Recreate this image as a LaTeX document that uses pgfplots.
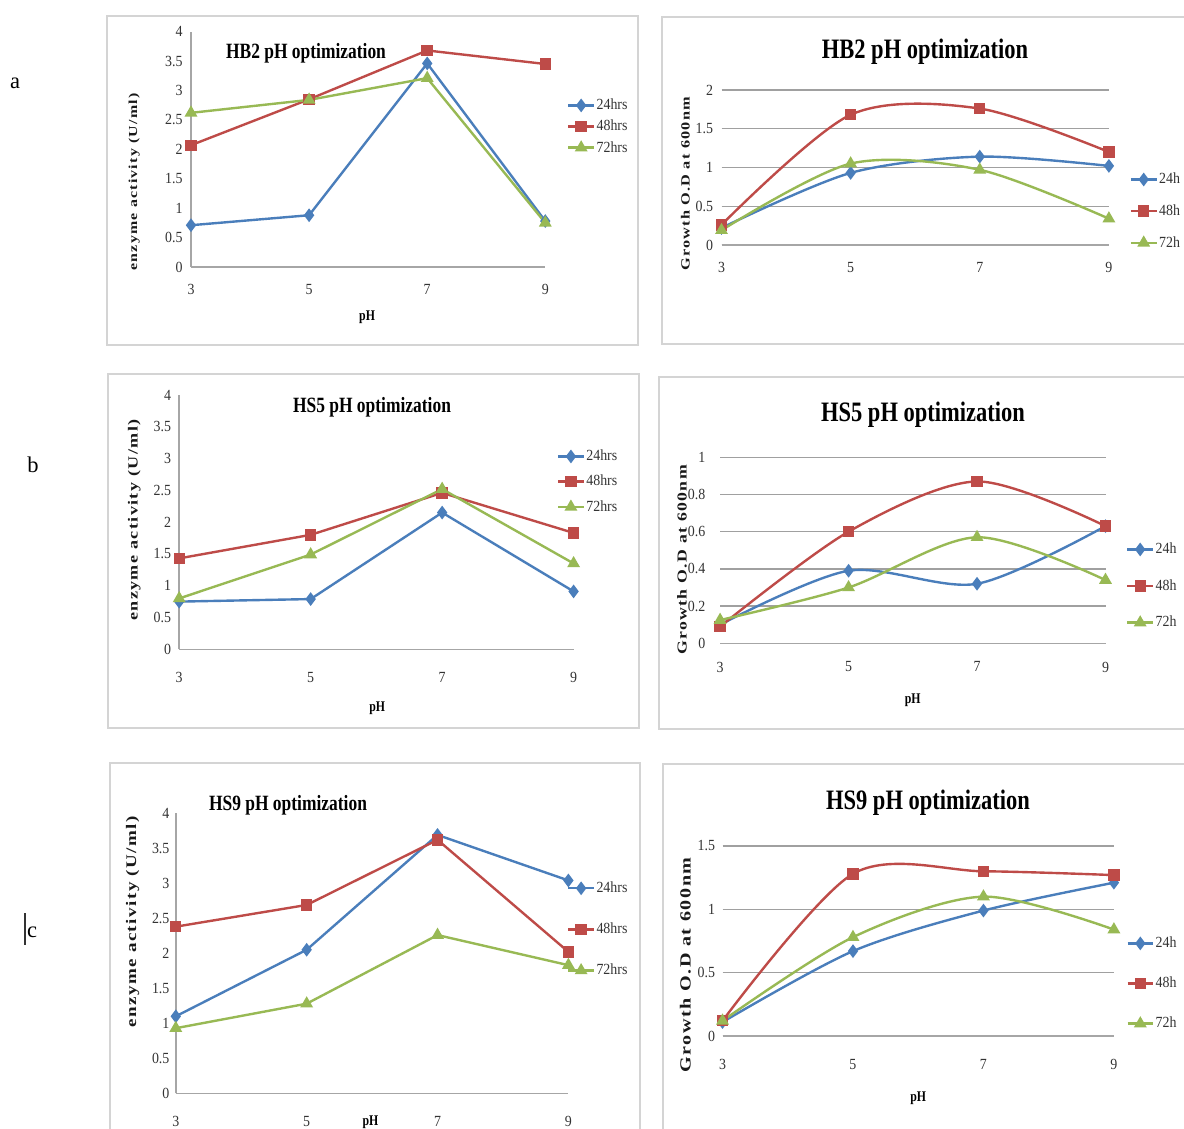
\documentclass[border=0pt]{standalone}
\usepackage{pgfplots}
\pgfplotsset{compat=1.18}
\usepackage{fontspec}
\setmainfont{Liberation Serif}
\newfontfamily\condf[FakeStretch=0.8]{Liberation Serif}
\newfontfamily\tickf[FakeStretch=0.9]{Liberation Serif}
\newfontfamily\labf[FakeStretch=1.3,LetterSpace=10]{Liberation Serif}

\definecolor{c24}{HTML}{4A7EBB}
\definecolor{c48}{HTML}{BE4B48}
\definecolor{c72}{HTML}{98B954}
\definecolor{axgray}{HTML}{A6A6A6}
\definecolor{gridgray}{HTML}{A0A0A0}
\definecolor{framegray}{HTML}{D4D4D4}

\pgfplotsset{
  base/.style={scale only axis, xmin=3, xmax=9, ymin=0, xtick={3,5,7,9},
    tick style={draw=none}, clip=false,
    axis x line*=bottom, axis y line*=left,
    axis line style={draw=axgray, line width=1pt},
    /pgf/number format/assume math mode=true,
    tick label style={font=\tickf\fontsize{11}{12}\selectfont, text=black!80},
    legend cell align=left,
    legend style={draw=none, fill=none, inner sep=0pt, anchor=north west,
      nodes={inner sep=1pt},
      font=\tickf\fontsize{11}{12}\selectfont, text=black!80},
    legend image code/.code={\draw[mark repeat=2,mark phase=2] plot coordinates {(0cm,0cm) (0.32cm,0cm) (0.64cm,0cm)};},
    xlabel style={anchor=center, font=\condf\bfseries\fontsize{10.5}{11}\selectfont},
    ylabel style={anchor=center, text=black!90},
  },
  enz/.style={base, ymax=4, ytick={0,0.5,...,4}},
  gro/.style={base, y axis line style={draw=none}, ymajorgrids,
    grid style={draw=gridgray, line width=1pt}},
  s24/.style={color=c24, line width=1.7pt, mark=diamond*, mark size=3.5pt},
  s48/.style={color=c48, line width=1.7pt, mark=square*, mark size=3.2pt},
  s72/.style={color=c72, line width=1.7pt, mark=triangle*, mark size=3.6pt},
}

\begin{document}
\begin{tikzpicture}[x=0.025cm, y=-0.025cm]
\useasboundingbox (0,0) rectangle (1184,1129);
\clip (0,0) rectangle (1184,1129);
\fill[white] (0,0) rectangle (1184,1129);

% panel frames
\draw[framegray, line width=1pt] (107,16) rectangle (638,345);
\draw[framegray, line width=1pt] (662,17) rectangle (1200,344);
\draw[framegray, line width=1pt] (108,374) rectangle (639,728);
\draw[framegray, line width=1pt] (659,377) rectangle (1200,729);
\draw[framegray, line width=1pt] (110,763) rectangle (640,1140);
\draw[framegray, line width=1pt] (663,764) rectangle (1200,1140);

\node[font=\fontsize{16}{17}\selectfont] at (15,83) {a};
\node[font=\fontsize{16}{17}\selectfont] at (33,465) {b};
\node[font=\fontsize{16}{17}\selectfont] at (32,932) {c};
\draw[black!80, line width=0.9pt] (25,913) -- (25,945);

\coordinate (A) at (191,267);
\coordinate (B) at (721.5,245);
\coordinate (C) at (179.2,649.3);
\coordinate (D) at (720.1,643.3);
\coordinate (E) at (175.8,1093.3);
\coordinate (F) at (722.5,1036);

% a: HB2 enzyme activity
\begin{axis}[enz, at={(A)}, anchor=south west, width=8.855cm, height=5.8825cm,
  xticklabel shift=8.9pt, yticklabel shift=2.5pt,
  xlabel={pH}, xlabel style={at={(axis description cs:0.497,-0.212)}},
  ylabel={enzyme activity (U/ml)},
  ylabel style={at={(axis description cs:-0.160,0.361)}, font=\labf\bfseries\fontsize{8.7}{9}\selectfont},
  legend style={at={(axis description cs:1.061,0.721)}, row sep=3.9pt}]
\addplot[s24] coordinates {(3,0.71) (5,0.88) (7,3.46) (9,0.78)};
\addplot[s48] coordinates {(3,2.07) (5,2.85) (7,3.68) (9,3.45)};
\addplot[s72] coordinates {(3,2.62) (5,2.84) (7,3.21) (9,0.75)};
\legend{24hrs,48hrs,72hrs}
\end{axis}

% a: HB2 growth
\begin{axis}[gro, at={(B)}, anchor=south west, width=9.6825cm, height=3.875cm,
  ymax=2, ytick={0,0.5,...,2},
  xticklabel shift=8.9pt, yticklabel shift=2.5pt,
  ylabel={Growth O.D at 600nm},
  ylabel style={at={(axis description cs:-0.093,0.394)}, font=\labf\bfseries\fontsize{8.9}{9}\selectfont},
  legend style={at={(axis description cs:1.053,0.475)}, row sep=11.4pt}]
\addplot[s24, smooth] coordinates {(3,0.22) (5,0.93) (7,1.14) (9,1.02)};
\addplot[s48, smooth] coordinates {(3,0.26) (5,1.68) (7,1.76) (9,1.20)};
\addplot[s72, smooth] coordinates {(3,0.19) (5,1.05) (7,0.97) (9,0.34)};
\legend{24h,48h,72h}
\end{axis}

% b: HS5 enzyme activity
\begin{axis}[enz, at={(C)}, anchor=south west, width=9.8575cm, height=6.3575cm,
  xticklabel shift=13.1pt, yticklabel shift=2.3pt,
  xlabel={pH}, xlabel style={at={(axis description cs:0.502,-0.231)}},
  ylabel={enzyme activity (U/ml)},
  ylabel style={at={(axis description cs:-0.114,0.508)}, font=\labf\bfseries\fontsize{9.9}{10}\selectfont},
  legend style={at={(axis description cs:0.957,0.790)}, row sep=6.8pt}]
\addplot[s24] coordinates {(3,0.75) (5,0.79) (7,2.15) (9,0.91)};
\addplot[s48] coordinates {(3,1.43) (5,1.80) (7,2.46) (9,1.83)};
\addplot[s72] coordinates {(3,0.80) (5,1.49) (7,2.52) (9,1.35)};
\legend{24hrs,48hrs,72hrs}
\end{axis}

% b: HS5 growth
\begin{axis}[gro, at={(D)}, anchor=south west, width=9.6325cm, height=4.65cm,
  ymax=1, ytick={0,0.2,...,1},
  xticklabel shift=9.6pt, yticklabel shift=7pt,
  xlabel={pH}, xlabel style={at={(axis description cs:0.5,-0.305)}},
  ylabel={Growth O.D at 600nm},
  ylabel style={at={(axis description cs:-0.099,0.448)}, font=\labf\bfseries\fontsize{9.7}{10}\selectfont},
  legend style={at={(axis description cs:1.053,0.548)}, row sep=14.9pt}]
\addplot[s24, smooth] coordinates {(3,0.10) (5,0.39) (7,0.32) (9,0.63)};
\addplot[s48, smooth] coordinates {(3,0.09) (5,0.60) (7,0.87) (9,0.63)};
\addplot[s72, smooth] coordinates {(3,0.125) (5,0.30) (7,0.57) (9,0.34)};
\legend{24h,48h,72h}
\end{axis}

% c: HS9 enzyme activity
\begin{axis}[enz, at={(E)}, anchor=south west, width=9.8125cm, height=7.0cm,
  xticklabel shift=13.1pt, yticklabel shift=1pt,
  xlabel={pH}, xlabel style={at={(axis description cs:0.496,-0.1025)}},
  ylabel={enzyme activity (U/ml)},
  ylabel style={at={(axis description cs:-0.110,0.612)}, font=\labf\bfseries\fontsize{10.4}{11}\selectfont},
  legend style={at={(axis description cs:0.996,0.761)}, row sep=18.1pt}]
\addplot[s24] coordinates {(3,1.10) (5,2.05) (7,3.69) (9,3.04)};
\addplot[s48] coordinates {(3,2.38) (5,2.69) (7,3.62) (9,2.02)};
\addplot[s72] coordinates {(3,0.93) (5,1.28) (7,2.26) (9,1.83)};
\legend{24hrs,48hrs,72hrs}
\end{axis}

% c: HS9 growth
\begin{axis}[gro, at={(F)}, anchor=south west, width=9.7825cm, height=4.75cm,
  ymax=1.5, ytick={0,0.5,1,1.5},
  xticklabel shift=13.1pt, yticklabel shift=1.8pt,
  xlabel={pH}, xlabel style={at={(axis description cs:0.5,-0.326)}},
  ylabel={Growth O.D at 600nm},
  ylabel style={at={(axis description cs:-0.095,0.374)}, font=\labf\bfseries\fontsize{11}{12}\selectfont},
  legend style={at={(axis description cs:1.031,0.530)}, row sep=17.4pt}]
\addplot[s24, smooth] coordinates {(3,0.11) (5,0.67) (7,0.99) (9,1.21)};
\addplot[s48, smooth] coordinates {(3,0.12) (5,1.28) (7,1.30) (9,1.27)};
\addplot[s72, smooth] coordinates {(3,0.12) (5,0.78) (7,1.10) (9,0.84)};
\legend{24h,48h,72h}
\end{axis}

% titles
\node[font=\condf\bfseries\fontsize{15.5}{17}\selectfont] at (306,53) {HB2 pH optimization};
\node[font=\condf\bfseries\fontsize{20}{22}\selectfont] at (925,52) {HB2 pH optimization};
\node[font=\condf\bfseries\fontsize{15.5}{17}\selectfont] at (372,407) {HS5 pH optimization};
\node[font=\condf\bfseries\fontsize{20}{22}\selectfont] at (923,415) {HS5 pH optimization};
\node[font=\condf\bfseries\fontsize{15.5}{17}\selectfont] at (288,805) {HS9 pH optimization};
\node[font=\condf\bfseries\fontsize{20}{22}\selectfont] at (928,803) {HS9 pH optimization};
\end{tikzpicture}
\end{document}
